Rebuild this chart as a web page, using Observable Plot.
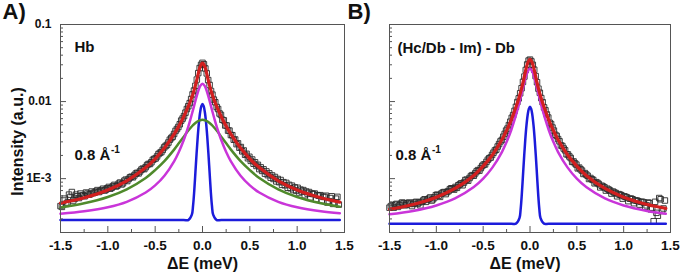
<!DOCTYPE html>
<html><head><meta charset="utf-8">
<script src="https://cdn.jsdelivr.net/npm/d3@7"></script>
<script src="https://cdn.jsdelivr.net/npm/@observablehq/plot@0.6"></script>
<style>
body{margin:0;background:#fff;}
#wrap{position:relative;width:685px;height:274px;}
#wrap svg{position:absolute;top:0;}
</style></head><body><div id="wrap"></div>
<script>
// ---------- data ----------
const energyGrid = [-1.5,-1.25,-1.0,-0.8,-0.6,-0.5,-0.4,-0.3,-0.25,-0.2,-0.15,-0.125,-0.1,-0.075,-0.05,-0.025,0,
  0.025,0.05,0.075,0.1,0.125,0.15,0.2,0.25,0.3,0.4,0.5,0.6,0.8,1.0,1.25,1.45];
const redA = [0.000482,0.000565,0.000713,0.000937,0.00139,0.00181,0.00251,0.00377,0.0048,0.00631,0.00865,0.01034,0.01262,0.01611,0.02159,0.0283,0.03159,
  0.0283,0.02159,0.01611,0.01262,0.01034,0.00865,0.00631,0.0048,0.00377,0.00251,0.00181,0.00139,0.000937,0.000713,0.000565,0.000496];
const magentaA = [0.00035,0.000377,0.000425,0.0005,0.00066,0.000817,0.0011,0.00168,0.00222,0.00312,0.00474,0.00603,0.00781,0.01021,0.01309,0.01589,0.01709,
  0.01589,0.01309,0.01021,0.00781,0.00603,0.00474,0.00312,0.00222,0.00168,0.0011,0.000817,0.00066,0.0005,0.000425,0.000377,0.000355];
const greenA = [0.000422,0.000478,0.000578,0.000727,0.00102,0.00129,0.0017,0.00238,0.00287,0.00348,0.0042,0.00458,0.00495,0.00528,0.00555,0.00573,0.00579,
  0.00573,0.00555,0.00528,0.00495,0.00458,0.0042,0.00348,0.00287,0.00238,0.0017,0.00129,0.00102,0.000727,0.000578,0.000478,0.000431];
const redB = [0.000401,0.000462,0.000574,0.000745,0.0011,0.00145,0.00204,0.00319,0.00421,0.0058,0.00848,0.0105,0.01333,0.01759,0.0241,0.0316,0.0353,
  0.0316,0.0241,0.01759,0.01333,0.0105,0.00848,0.0058,0.00421,0.00319,0.00204,0.00145,0.0011,0.000745,0.000574,0.000462,0.000411];
const magentaB = [0.000344,0.000381,0.000449,0.000554,0.000777,0.000999,0.0014,0.00221,0.00299,0.00428,0.00665,0.00857,0.01129,0.01505,0.0198,0.02447,0.02656,
  0.02447,0.0198,0.01505,0.01129,0.00857,0.00665,0.00428,0.00299,0.00221,0.0014,0.000999,0.000777,0.000554,0.000449,0.000381,0.00035];

const blueGrid = [-1.5,-0.2,-0.15,-0.1125,-0.1,-0.0875,-0.075,-0.0625,-0.05,-0.0375,-0.025,-0.0125,0,
  0.0125,0.025,0.0375,0.05,0.0625,0.075,0.0875,0.1,0.1125,0.15,0.2,1.45];
const blueA = [0.00029,0.00029,0.00029,0.000341,0.000442,0.000685,0.0012,0.00212,0.00353,0.00536,0.00726,0.00873,0.00929,
  0.00873,0.00726,0.00536,0.00353,0.00212,0.0012,0.000685,0.000442,0.000341,0.00029,0.00029,0.00029];
const blueB = [0.00026,0.00026,0.00026,0.000307,0.0004,0.000624,0.0011,0.00194,0.00325,0.00493,0.00669,0.00805,0.00856,
  0.00805,0.00669,0.00493,0.00325,0.00194,0.0011,0.000624,0.0004,0.000307,0.00026,0.00026,0.00026];

// measured points, first pass
const dataX = [-1.50,-1.47,-1.44,-1.41,-1.38,-1.35,-1.32,-1.29,-1.26,-1.23,
  -1.20,-1.17,-1.14,-1.11,-1.08,-1.05,-1.02,-0.99,-0.96,-0.93,
  -0.90,-0.87,-0.84,-0.81,-0.78,-0.75,-0.72,-0.69,-0.66,-0.63,
  -0.60,-0.57,-0.54,-0.51,-0.48,-0.45,-0.42,-0.39,-0.36,-0.33,
  -0.30,-0.27,-0.24,-0.21,-0.18,-0.15,-0.12,-0.09,-0.06,-0.03,
  0,
  0.03,0.06,0.09,0.12,0.15,0.18,0.21,0.24,0.27,0.30,
  0.33,0.36,0.39,0.42,0.45,0.48,0.51,0.54,0.57,0.60,
  0.63,0.66,0.69,0.72,0.75,0.78,0.81,0.84,0.87,0.90,
  0.93,0.96,0.99,1.02,1.05,1.08,1.11,1.14,1.17,1.20,
  1.23,1.26,1.29,1.32,1.35,1.38,1.41,1.44];
const dataA = [0.00044,0.00052,0.00047,0.00062,0.00067,0.00055,0.00059,0.00064,0.00061,0.00066,
  0.00062,0.00068,0.00066,0.00071,0.00069,0.00074,0.00072,0.00078,0.00076,0.00083,
  0.00081,0.00089,0.00087,0.00097,0.00099,0.00106,0.00110,0.00119,0.00124,0.00135,
  0.00141,0.00155,0.00163,0.00180,0.00194,0.00216,0.00236,0.00265,0.00294,0.00336,
  0.00380,0.00440,0.00508,0.00602,0.00718,0.00870,0.0108,0.0139,0.0193,0.0272,
  0.0318,
  0.0269,0.0190,0.0137,0.0106,0.0085,0.0070,0.0058,0.0049,0.0042,0.00368,
  0.00320,0.00280,0.00252,0.00226,0.00204,0.00184,0.00170,0.00156,0.00146,0.00133,
  0.00126,0.00116,0.00111,0.00103,0.00099,0.00092,0.00090,0.00083,0.00082,0.00076,
  0.00075,0.00071,0.00070,0.00066,0.00068,0.00061,0.00064,0.00057,0.00063,0.00054,
  0.00060,0.00052,0.00058,0.00049,0.00056,0.00047,0.00055,0.00046];
const dataB = [0.00042,0.00045,0.00046,0.00043,0.00047,0.00048,0.00046,0.00049,0.00044,0.00049,
  0.00047,0.00045,0.00052,0.00050,0.00055,0.00052,0.00057,0.00062,0.00058,0.00066,
  0.00063,0.00069,0.00075,0.00072,0.00076,0.00084,0.00082,0.00096,0.00094,0.00108,
  0.00109,0.00124,0.00127,0.00146,0.00153,0.00176,0.00188,0.00217,0.00238,0.00281,
  0.00318,0.00381,0.00446,0.00548,0.00668,0.00855,0.0110,0.0149,0.0211,0.0303,
  0.0350,
  0.0300,0.0214,0.0147,0.0111,0.0084,0.0068,0.0053,0.0046,0.0037,0.00326,
  0.00270,0.00246,0.00207,0.00194,0.00165,0.00158,0.00136,0.00132,0.00115,0.00113,
  0.00099,0.00098,0.00087,0.00088,0.00077,0.00079,0.00070,0.00072,0.00064,0.00066,
  0.00059,0.00062,0.00055,0.00058,0.00051,0.00055,0.00048,0.00052,0.00046,0.00050,
  0.00043,0.00049,0.00040,0.00028,0.00036,0.00056,0.00038,0.00052];

// measured points, interleaved second pass
const dataX2 = [-1.485,-1.455,-1.425,-1.395,-1.365,-1.335,-1.305,-1.275,-1.245,-1.215,
  -1.185,-1.155,-1.125,-1.095,-1.065,-1.035,-1.005,-0.975,-0.945,-0.915,
  -0.885,-0.855,-0.825,-0.795,-0.765,-0.735,-0.705,-0.675,-0.645,-0.615,
  -0.585,-0.555,-0.525,-0.495,-0.465,-0.435,-0.405,-0.375,-0.345,-0.315,
  -0.285,-0.255,-0.225,-0.195,-0.165,-0.135,-0.105,-0.075,-0.045,-0.015,
  0.015,0.045,0.075,0.105,0.135,0.165,0.195,0.225,0.255,0.285,
  0.315,0.345,0.375,0.405,0.435,0.465,0.495,0.525,0.555,0.585,
  0.615,0.645,0.675,0.705,0.735,0.765,0.795,0.825,0.855,0.885,
  0.915,0.945,0.975,1.005,1.035,1.065,1.095,1.125,1.155,1.185,
  1.215,1.245,1.275,1.305,1.335,1.365,1.395,1.425];
const dataA2 = [0.00043,0.00055,0.00049,0.00058,0.00052,0.00062,0.00056,0.00060,0.00059,0.00064,
  0.00063,0.00065,0.00068,0.00067,0.00071,0.00070,0.00075,0.00074,0.00080,0.00079,
  0.00086,0.00084,0.00094,0.00093,0.00104,0.00104,0.00116,0.00117,0.00131,0.00133,
  0.00150,0.00155,0.00175,0.00183,0.00208,0.00221,0.00254,0.00274,0.00320,0.00350,
  0.00416,0.00468,0.00566,0.00648,0.00800,0.00955,0.0124,0.0160,0.0234,0.0300,
  0.0305,0.0232,0.0164,0.0123,0.0098,0.0080,0.0067,0.0057,0.0049,0.00420,
  0.00366,0.00322,0.00287,0.00257,0.00232,0.00210,0.00192,0.00177,0.00163,0.00151,
  0.00140,0.00132,0.00124,0.00117,0.00110,0.00105,0.00099,0.00096,0.00090,0.00088,
  0.00083,0.00081,0.00077,0.00076,0.00072,0.00071,0.00068,0.00067,0.00064,0.00064,
  0.00061,0.00061,0.00058,0.00060,0.00051,0.00059,0.00049,0.00058];
const dataB2 = [0.00044,0.00042,0.00047,0.00045,0.00049,0.00045,0.00048,0.00047,0.00047,0.00050,
  0.00049,0.00050,0.00054,0.00053,0.00057,0.00054,0.00061,0.00060,0.00064,0.00067,
  0.00067,0.00073,0.00074,0.00078,0.00082,0.00087,0.00089,0.00097,0.00102,0.00111,
  0.00117,0.00129,0.00137,0.00152,0.00165,0.00184,0.00203,0.00232,0.00261,0.00304,
  0.00350,0.00420,0.00495,0.00615,0.00758,0.00985,0.0128,0.0180,0.0257,0.0340,
  0.0332,0.0259,0.0178,0.0130,0.0098,0.0077,0.0062,0.0051,0.0042,0.00358,
  0.00305,0.00265,0.00233,0.00206,0.00185,0.00167,0.00152,0.00139,0.00127,0.00118,
  0.00109,0.00102,0.00096,0.00090,0.00085,0.00081,0.00077,0.00074,0.00070,0.00068,
  0.00065,0.00063,0.00061,0.00059,0.00057,0.00055,0.00054,0.00052,0.00051,0.00050,
  0.00049,0.00045,0.00048,0.00042,0.00050,0.00033,0.00054,0.00041];

const yMajor = [0.001, 0.01, 0.1];
const yMajorLabels = ["1E-3", "0.01", "0.1"];
const yMinor = [0.0002,0.0003,0.0004,0.0005,0.0006,0.0007,0.0008,0.0009,
  0.002,0.003,0.004,0.005,0.006,0.007,0.008,0.009,
  0.02,0.03,0.04,0.05,0.06,0.07,0.08,0.09];
const xMajor = [-1.5,-1.0,-0.5,0,0.5,1.0,1.5];
const xMinor = [-1.25,-0.75,-0.25,0.25,0.75,1.25];

// ---------- drawing ----------
const H = 274, MT = 24, MB = 42;
const FONT = "'Liberation Sans', Arial, sans-serif";
const COL = {red:"#d21f1f", magenta:"#c935d9", green:"#4f8a2b", blue:"#1c1cdb", data:"#2a2a2a", axis:"#555555"};

function panel(o) {
  const plotW = o.width - o.marginLeft - o.marginRight;
  const plotH = H - MT - MB;
  const pts = dataX.map((x, i) => ({x, y: o.dataY[i]}))
    .concat(dataX2.map((x, i) => ({x, y: o.dataY2[i]})));
  const line = (grid, ys) => grid.map((x, i) => ({x, y: ys[i]}));
  const marks = [
    Plot.dot(pts, {x: "x", y: "y", symbol: "square", r: 3.1, stroke: COL.data, strokeWidth: 0.9, fill: "none"}),
    Plot.line(line(blueGrid, o.blueY), {x: "x", y: "y", stroke: COL.blue, strokeWidth: 2.5, curve: "catmull-rom"})
  ];
  if (o.greenY) marks.push(Plot.line(line(energyGrid, o.greenY), {x: "x", y: "y", stroke: COL.green, strokeWidth: 2.5, curve: "catmull-rom"}));
  marks.push(
    Plot.line(line(energyGrid, o.magentaY), {x: "x", y: "y", stroke: COL.magenta, strokeWidth: 2.5, curve: "catmull-rom"}),
    Plot.line(line(energyGrid, o.redY), {x: "x", y: "y", stroke: COL.red, strokeWidth: 3.2, curve: "catmull-rom"}),
    Plot.tickY(yMinor, {y: d => d, insetRight: plotW - 3, stroke: COL.axis}),
    Plot.tickY(yMajor, {y: d => d, insetRight: plotW - 6, stroke: COL.axis}),
    Plot.tickX(xMinor, {x: d => d, insetTop: plotH - 3, stroke: COL.axis}),
    Plot.tickX(xMajor, {x: d => d, insetTop: plotH - 6, stroke: COL.axis}),
    Plot.axisX({ticks: xMajor, tickSize: 0, tickPadding: 8, tickFormat: d => d.toFixed(1), label: null, fontSize: 13.5, fontWeight: "bold", fill: "#111"}),
    Plot.frame({stroke: COL.axis, strokeWidth: 1}),
    Plot.text([o.title], {frameAnchor: "top-left", dx: o.titleDx, dy: -6, fontSize: 22, fontWeight: "bold", textAnchor: "start", lineAnchor: "bottom", fill: "#111"}),
    Plot.text([o.sample], {frameAnchor: "top-left", dx: o.sampleDx, dy: o.sampleDy, fontSize: 15, fontWeight: "bold", textAnchor: "start", lineAnchor: "bottom", fill: "#111"}),
    Plot.text(["0.8 Å"], {frameAnchor: "top-left", dx: o.qDx, dy: 135, fontSize: 15, fontWeight: "bold", textAnchor: "start", lineAnchor: "bottom", fill: "#111"}),
    Plot.text(["-1"], {frameAnchor: "top-left", dx: o.qDx + 36.5, dy: 128, fontSize: 10, fontWeight: "bold", textAnchor: "start", lineAnchor: "bottom", fill: "#111"}),
    Plot.text(["ΔE (meV)"], {frameAnchor: "bottom", dx: o.xLabelDx, dy: 36, fontSize: 16, fontWeight: "bold", textAnchor: "middle", lineAnchor: "bottom", fill: "#111"})
  );
  if (o.yLabels) {
    marks.push(
      Plot.axisY({ticks: yMajor, tickSize: 0, tickPadding: 9, tickFormat: d => yMajorLabels[yMajor.indexOf(d)], label: null, fontSize: 12, fontWeight: "bold", fill: "#111"}),
      Plot.text(["Intensity (a.u.)"], {frameAnchor: "left", dx: -42.5, dy: 13, rotate: -90, fontSize: 16, fontWeight: "bold", textAnchor: "middle", lineAnchor: "middle", fill: "#111"})
    );
  } else {
    marks.push(Plot.axisY({ticks: [], tickSize: 0, label: null}));
  }
  const svg = Plot.plot({
    width: o.width, height: H,
    marginLeft: o.marginLeft, marginRight: o.marginRight, marginTop: MT, marginBottom: MB,
    x: {type: "linear", domain: [-1.5, 1.5]},
    y: {type: "log", domain: [0.0002, 0.1]},
    style: {fontFamily: FONT, background: "transparent", overflow: "visible", color: "#111"},
    marks
  });
  svg.style.left = o.left + "px";
  return svg;
}

const wrap = document.getElementById("wrap");
wrap.appendChild(panel({
  left: 0, width: 345, marginLeft: 60, marginRight: 1,
  dataY: dataA, dataY2: dataA2, redY: redA, magentaY: magentaA, greenY: greenA, blueY: blueA,
  title: "A)", titleDx: -58, sample: "Hb", sampleDx: 14, sampleDy: 27, qDx: 14, xLabelDx: 0, yLabels: true
}));
wrap.appendChild(panel({
  left: 345, width: 340, marginLeft: 44, marginRight: 15,
  dataY: dataB, dataY2: dataB2, redY: redB, magentaY: magentaB, greenY: null, blueY: blueB,
  title: "B)", titleDx: -42, sample: "(Hc/Db - Im) - Db", sampleDx: 8, sampleDy: 28, qDx: 6, xLabelDx: -5, yLabels: false
}));
</script></body></html>
